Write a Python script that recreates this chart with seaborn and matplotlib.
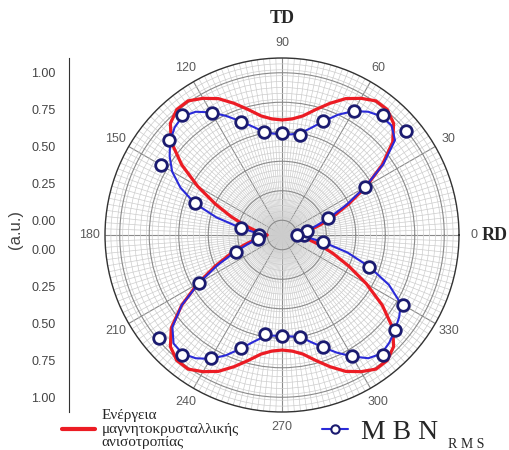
import numpy as np
import matplotlib
matplotlib.use("Agg")
import matplotlib.pyplot as plt
from matplotlib.ticker import FixedLocator, NullFormatter
from matplotlib.lines import Line2D
import seaborn as sns
import pandas as pd

# ---- measured MBN RMS values (every 10 degrees, 0 and 360 both measured)
point_angles = [0, 10, 20, 30, 40, 50, 60, 70, 80, 90, 100, 110, 120, 130, 140, 150, 160, 170,
                180, 190, 200, 210, 220, 230, 240, 250, 260, 270, 280, 290, 300, 310, 320, 330,
                340, 350, 360]
mbn_points = [0.05, 0.07, 0.235, 0.55, 1.00, 0.965, 0.87, 0.72, 0.585, 0.59, 0.61, 0.715, 0.855,
              0.96, 0.90, 0.85, 0.53, 0.18, 0.055, 0.067, 0.235, 0.547, 0.99, 0.96, 0.866, 0.718,
              0.58, 0.585, 0.60, 0.71, 0.846, 0.961, 0.898, 0.844, 0.526, 0.183, 0.005]

# ---- fitted MBN curve and magnetocrystalline anisotropy energy (every 5 degrees)
curve_angles = list(range(0, 365, 5))
mbn_fit = [0.02, 0.03, 0.07, 0.14, 0.24, 0.38, 0.55, 0.74, 0.90, 0.95, 0.95, 0.92, 0.87, 0.80,
           0.72, 0.65, 0.60, 0.585, 0.585, 0.59, 0.61, 0.66, 0.72, 0.79, 0.86, 0.92, 0.95, 0.93,
           0.89, 0.83, 0.76, 0.66, 0.53, 0.36, 0.19, 0.08, 0.04,
           0.04, 0.07, 0.14, 0.24, 0.38, 0.55, 0.73, 0.87, 0.94, 0.95, 0.92, 0.87, 0.80,
           0.72, 0.65, 0.60, 0.585, 0.585, 0.59, 0.60, 0.65, 0.71, 0.78, 0.85, 0.92, 0.95, 0.93,
           0.90, 0.87, 0.83, 0.70, 0.53, 0.36, 0.19, 0.07, 0.02]
mca_energy = [0.00, 0.03, 0.09, 0.17, 0.27, 0.40, 0.56, 0.73, 0.88, 0.97, 1.01, 1.01, 0.97, 0.92,
              0.85, 0.78, 0.72, 0.69, 0.68, 0.69, 0.72, 0.78, 0.85, 0.92, 0.97, 1.01, 1.01, 0.97,
              0.88, 0.73, 0.56, 0.40, 0.27, 0.17, 0.09, 0.03, 0.00,
              0.03, 0.09, 0.17, 0.27, 0.40, 0.56, 0.73, 0.88, 0.97, 1.01, 1.01, 0.97, 0.92,
              0.85, 0.78, 0.72, 0.69, 0.68, 0.69, 0.72, 0.78, 0.85, 0.92, 0.97, 1.01, 1.01, 0.97,
              0.88, 0.73, 0.56, 0.40, 0.27, 0.17, 0.09, 0.03, 0.00]

theta_tick_angles = [0, 30, 60, 90, 120, 150, 180, 210, 240, 270, 300, 330]
theta_tick_labels = ["0", "30", "60", "90", "120", "150", "180", "210", "240", "270", "300", "330"]
scale_values = [0.00, 0.25, 0.50, 0.75, 1.00]
scale_labels = ["0.00", "0.25", "0.50", "0.75", "1.00"]

label_energy = "Ενέργεια\nμαγνητοκρυσταλλικής\nανισοτροπίας"
label_mbn = "M B N"
label_mbn_sub = "R M S"
label_td = "TD"
label_rd = "RD"
label_units = "(a.u.)"

RED = "#ec1c24"
BLUE = "#2a2ad8"
NAVY = "#1b1b70"

sns.set_style("white")
plt.rcParams["font.family"] = ["Liberation Sans", "DejaVu Sans"]

W_PX, H_PX = 509, 450
fig = plt.figure(figsize=(W_PX / 100, H_PX / 100), dpi=100)

cx, cy, rad = 282, 235, 177
ax_rect = [(cx - rad) / W_PX, (H_PX - cy - rad) / H_PX, 2 * rad / W_PX, 2 * rad / H_PX]
ax = fig.add_axes(ax_rect, projection="polar")
# radial scale starts slightly below zero so the zero level sits off the pole
ax.set_ylim(-0.1, 1.1)

pts = pd.DataFrame({"theta": np.deg2rad(point_angles), "r": mbn_points})
curves = pd.DataFrame({"theta": np.deg2rad(curve_angles), "fit": mbn_fit, "energy": mca_energy})

# grid
ax.set_yticks([0.0, 0.2, 0.4, 0.6, 0.8, 1.0])
ax.yaxis.set_minor_locator(FixedLocator(np.arange(-0.06, 1.1001, 0.04)))
ax.set_yticklabels([])
ax.yaxis.set_minor_formatter(NullFormatter())
ax.set_thetagrids(theta_tick_angles, theta_tick_labels)
ax.xaxis.set_minor_locator(FixedLocator(np.deg2rad(np.arange(0, 360, 2))))
ax.grid(which="major", color="#8a8a8a", lw=0.8)
ax.grid(which="minor", color="#cdcdcd", lw=0.5)
ax.tick_params(axis="x", which="major", pad=-1, labelsize=9, labelcolor="#5a5a5a",
               direction="out", length=5, width=1.0, color="#333333")
ax.tick_params(axis="x", which="minor", direction="out", length=3.5, width=0.9, color="#333333")
ax.tick_params(axis="y", which="both", length=0)
ax.spines["polar"].set_color("#333333")
ax.spines["polar"].set_linewidth(1.0)
ax.set_axisbelow(True)

sns.lineplot(data=curves, x="theta", y="energy", ax=ax, color=RED, lw=2.3, sort=False,
             legend=False, zorder=3)
sns.lineplot(data=curves, x="theta", y="fit", ax=ax, color=BLUE, lw=1.5, sort=False,
             legend=False, zorder=4)
sns.scatterplot(data=pts, x="theta", y="r", ax=ax, s=70, facecolor="white",
                edgecolor=NAVY, linewidth=2.0, zorder=5, legend=False)
ax.set_xlabel("")
ax.set_ylabel("")

# direction labels
ax.text(np.deg2rad(90), 1.37, label_td, ha="center", va="center", fontsize=13,
        fontweight="bold", family=["Liberation Serif"])
ax.text(np.deg2rad(0), 1.255, label_rd, ha="left", va="center", fontsize=13,
        fontweight="bold", family=["Liberation Serif"])

# mirrored radial scale on the left
sax = fig.add_axes([69 / W_PX, ax_rect[1], 0.0001, ax_rect[3]])
sax.set_ylim(-1.2, 1.2)
major_pos = [v + 0.1 for v in scale_values] + [-(v + 0.1) for v in scale_values]
sax.yaxis.set_major_locator(FixedLocator(major_pos))
sax.set_yticklabels(scale_labels + scale_labels)
minor_pos = [s * (0.1 + 0.05 * k) for s in (1, -1) for k in range(0, 21)]
sax.yaxis.set_minor_locator(FixedLocator(minor_pos))
sax.tick_params(axis="y", which="major", direction="out", length=6, width=0.9, labelsize=9,
                labelcolor="#444444", color="#333333")
sax.tick_params(axis="y", which="minor", direction="in", length=3, width=0.7, color="#333333")
sax.set_xticks([])
for side in ("top", "right", "bottom"):
    sax.spines[side].set_visible(False)
sax.spines["left"].set_color("#333333")
sax.patch.set_alpha(0)
fig.text(15 / W_PX, 1 - 230 / H_PX, label_units, rotation=90, ha="center", va="center",
         fontsize=12, color="#444444")

# legends
h_red = Line2D([], [], color=RED, lw=3)
leg1 = fig.legend([h_red], [label_energy], loc="center left",
                  bbox_to_anchor=(62 / W_PX, 1 - 429 / H_PX), frameon=False,
                  handlelength=2.15, handletextpad=0.44, borderpad=0, borderaxespad=0,
                  prop={"family": ["Liberation Serif"], "size": 11})
for t in leg1.get_texts():
    t.set_linespacing(1.02)
h_blue = Line2D([], [], color=BLUE, lw=1.5, marker="o", markersize=6, markerfacecolor="white",
                markeredgecolor=NAVY, markeredgewidth=1.5)
leg2 = fig.legend([h_blue], [label_mbn], loc="center left",
                  bbox_to_anchor=(322 / W_PX, 1 - 432 / H_PX), frameon=False,
                  handlelength=0.95, handletextpad=0.47, borderpad=0, borderaxespad=0,
                  prop={"family": ["Liberation Serif"], "size": 20})
fig.text(448 / W_PX, 1 - 445 / H_PX, label_mbn_sub, fontsize=10, family=["Liberation Serif"],
         ha="left", va="center")

fig.savefig("out.png", dpi=100)
